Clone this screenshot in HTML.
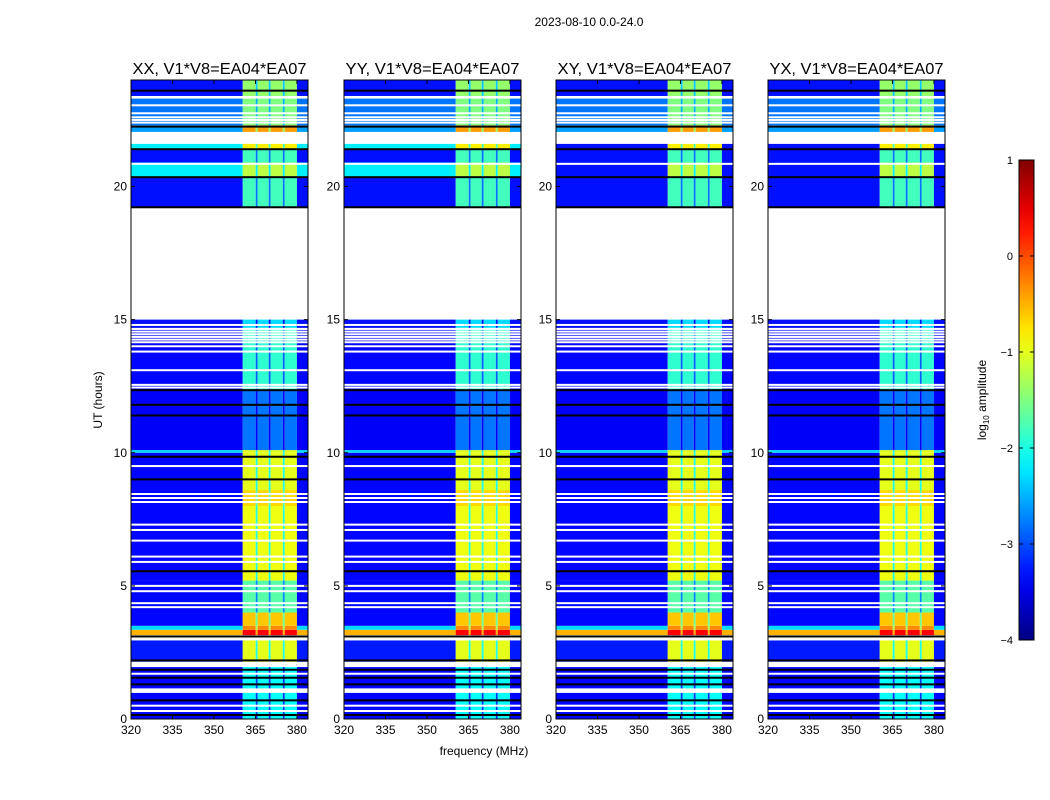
<!DOCTYPE html>
<html><head><meta charset="utf-8">
<style>
body{margin:0;background:#fff;}
svg{display:block;font-family:"Liberation Sans",sans-serif;}
</style></head>
<body>
<svg id="fig" width="1050" height="800" viewBox="0 0 1050 800" xmlns="http://www.w3.org/2000/svg">
<rect width="1050" height="800" fill="#fff"/>
<text x="589" y="26" font-size="12" text-anchor="middle">2023-08-10 0.0-24.0</text>
<text x="484" y="755" font-size="12" text-anchor="middle">frequency (MHz)</text>
<text x="102" y="400" font-size="12" text-anchor="middle" transform="rotate(-90 102 400)">UT (hours)</text>
<g id="panels"></g>
<g id="cbar"></g>
</svg>
<script>
// ---- data ----
const panelTitles = ["XX, V1*V8=EA04*EA07","YY, V1*V8=EA04*EA07","XY, V1*V8=EA04*EA07","YX, V1*V8=EA04*EA07"];
const panelLeft = [131, 344, 556, 768];
const panelCyan = [1, 1, 0, 0];
const xTicks = [320, 335, 350, 365, 380];
const yTicks = [0, 5, 10, 15, 20];
const cbTicks = [1, 0, -1, -2, -3, -4];
// frequency band edges (MHz) and kind: 0 background, 1 signal subband, 2 gap between subbands
const freqEdges = [320, 360.4, 365.1, 365.8, 369.8, 370.5, 374.9, 375.6, 380, 384];
const freqKind = [0, 1, 2, 1, 2, 1, 2, 1, 0];
// time segments (hours) with log10 background and signal levels; null = flagged (white)
const segStart = [0, 0.98, 1.15, 1.95, 2.15, 2.95, 3.15, 3.35, 3.5, 4.0, 5.2, 8.0, 8.6, 10.0, 10.1, 12.35, 14.7, 15.0, 19.2, 20.35, 20.9, 21.4, 21.6, 22.05, 22.3, 23.3, 23.4];
const segEnd   = [0.98, 1.15, 1.95, 2.15, 2.95, 3.15, 3.35, 3.5, 4.0, 5.2, 8.0, 8.6, 10.0, 10.1, 12.35, 14.7, 15.0, 19.2, 20.35, 20.9, 21.4, 21.6, 22.05, 22.3, 23.3, 23.4, 24];
const segBg    = [-3.35, null, -3.35, null, -3.25, null, -0.5, -2.3, -3.35, -3.35, -3.35, -3.35, -3.35, -2.3, -3.4, -3.35, -3.3, null, -3.3, -2.2, -3.3, -2.2, null, -2.6, -2.8, null, -3.3];
const segSig   = [-2.1, null, -2.1, null, -1.0, null, 0.4, -0.3, -0.6, -1.7, -0.95, -0.7, -1.0, -1.0, -2.8, -1.9, -2.3, null, -1.8, -1.2, -1.8, -0.8, null, -0.4, -1.5, null, -1.4];
const whiteLines = [0.3, 0.5, 1.7, 4.2, 4.35, 4.8, 5.0, 5.9, 6.1, 6.7, 7.1, 7.3, 8.15, 8.3, 8.45, 9.5, 12.45, 12.55, 13.1, 13.8, 14.0, 14.15, 14.25, 14.35, 14.45, 14.55, 14.65, 14.8, 20.85, 22.4, 22.5, 22.6, 22.75, 23.05];
const blackLines = [0.15, 0.7, 1.3, 1.55, 1.85, 2.2, 3.1, 5.55, 9.0, 9.85, 11.4, 11.8, 12.35, 19.22, 20.35, 21.4, 22.25, 23.6];

// ---- scales ----
const TOP = 80, BOT = 719, PW = 177, FMIN = 320, FMAX = 384, VMIN = -4, VMAX = 1;
const yS = h => BOT - (h / 24) * (BOT - TOP);
const xS = (f, L) => L + (f - FMIN) / (FMAX - FMIN) * PW;
function jet(t){
  t = Math.max(0, Math.min(1, t));
  const c = x => Math.round(255 * Math.max(0, Math.min(1, x)));
  return `rgb(${c(1.5 - Math.abs(4*t - 3))},${c(1.5 - Math.abs(4*t - 2))},${c(1.5 - Math.abs(4*t - 1))})`;
}
const col = v => jet((v - VMIN) / (VMAX - VMIN));
const NS = "http://www.w3.org/2000/svg";
function mk(tag, attrs, parent){ const e = document.createElementNS(NS, tag); for (const k in attrs) e.setAttribute(k, attrs[k]); parent.appendChild(e); return e; }

const panels = document.getElementById('panels');
panelLeft.forEach((L, p) => {
  const g = mk('g', {}, panels);
  
  
  const hm = mk('g', {}, g);
  
  
  for (let s = 0; s < segStart.length; s++) {
    const y0 = yS(segEnd[s]), y1 = yS(segStart[s]);
    if (segBg[s] === null) continue;
    let bg = segBg[s];
    if (!panelCyan[p] && bg > -2.5 && bg < -2.0 && segStart[s] > 20) bg = -3.3;
    for (let f = 0; f < freqKind.length; f++) {
      const k = freqKind[f];
      const v = k === 0 ? bg : (k === 1 ? segSig[s] : Math.max(bg, segSig[s] - 1.0));
      const x0 = xS(freqEdges[f], L), x1 = xS(freqEdges[f+1], L);
      const r = mk('rect', {x: x0, y: y0, width: x1 - x0, height: y1 - y0, fill: col(v)}, hm);
      
      
    }
  }
  whiteLines.forEach(h => {
    const r = mk('rect', {x: L, y: yS(h) - 1, width: PW, height: 2, fill: '#fff'}, hm);
    
    
  });
  blackLines.forEach(h => {
    const r = mk('rect', {x: L, y: yS(h) - 1, width: PW, height: 2, fill: '#000'}, hm);
    
    
  });
  const fr = mk('rect', {x: L, y: TOP, width: PW, height: BOT - TOP, fill: 'none', stroke: '#000', 'stroke-width': 1}, g);
  
  
  const t = mk('text', {x: L + PW/2, y: 74, 'font-size': 16, 'text-anchor': 'middle', textLength: 174, lengthAdjust: 'spacingAndGlyphs'}, g);
  t.textContent = panelTitles[p];
  
  
  xTicks.forEach(v => {
    const x = xS(v, L);
    mk('line', {x1: x, x2: x, y1: BOT, y2: BOT - 4, stroke: '#000'}, g);
    mk('line', {x1: x, x2: x, y1: TOP, y2: TOP + 4, stroke: '#000'}, g);
    const tx = mk('text', {x: x, y: BOT + 15, 'font-size': 12, 'text-anchor': 'middle'}, g);
    tx.textContent = v;
    
    
  });
  yTicks.forEach(v => {
    const y = yS(v);
    mk('line', {x1: L, x2: L + 4, y1: y, y2: y, stroke: '#000'}, g);
    mk('line', {x1: L + PW, x2: L + PW - 4, y1: y, y2: y, stroke: '#000'}, g);
    const ty = mk('text', {x: L - 4, y: y + 4, 'font-size': 12, 'text-anchor': 'end'}, g);
    ty.textContent = v;
    
    
  });
});

// colorbar
const cb = document.getElementById('cbar');


const CBX = 1019, CBW = 15, CBT = 160, CBB = 640;
const defs = mk('defs', {}, cb);
const lg = mk('linearGradient', {id: 'jetg', x1: 0, y1: 1, x2: 0, y2: 0}, defs);
for (let i = 0; i <= 20; i++) mk('stop', {offset: i/20, 'stop-color': jet(i/20)}, lg);
mk('rect', {x: CBX, y: CBT, width: CBW, height: CBB - CBT, fill: 'url(#jetg)', stroke: '#000', 'stroke-width': 1}, cb);
cbTicks.forEach(v => {
  const y = CBB - (v - VMIN) / (VMAX - VMIN) * (CBB - CBT);
  mk('line', {x1: CBX, x2: CBX + 4, y1: y, y2: y, stroke: '#000'}, cb);
  mk('line', {x1: CBX + CBW, x2: CBX + CBW - 4, y1: y, y2: y, stroke: '#000'}, cb);
  const t = mk('text', {x: 1013, y: y + 4, 'font-size': 11, 'text-anchor': 'end'}, cb);
  t.textContent = v < 0 ? '\u2212' + Math.abs(v) : v;
  
  
});
const cl = mk('text', {x: 986, y: 400, 'font-size': 12, 'text-anchor': 'middle', transform: 'rotate(-90 986 400)'}, cb);
cl.innerHTML = 'log<tspan font-size="8" dy="3">10</tspan><tspan dy="-3"> amplitude</tspan>';


</script>
</body></html>
